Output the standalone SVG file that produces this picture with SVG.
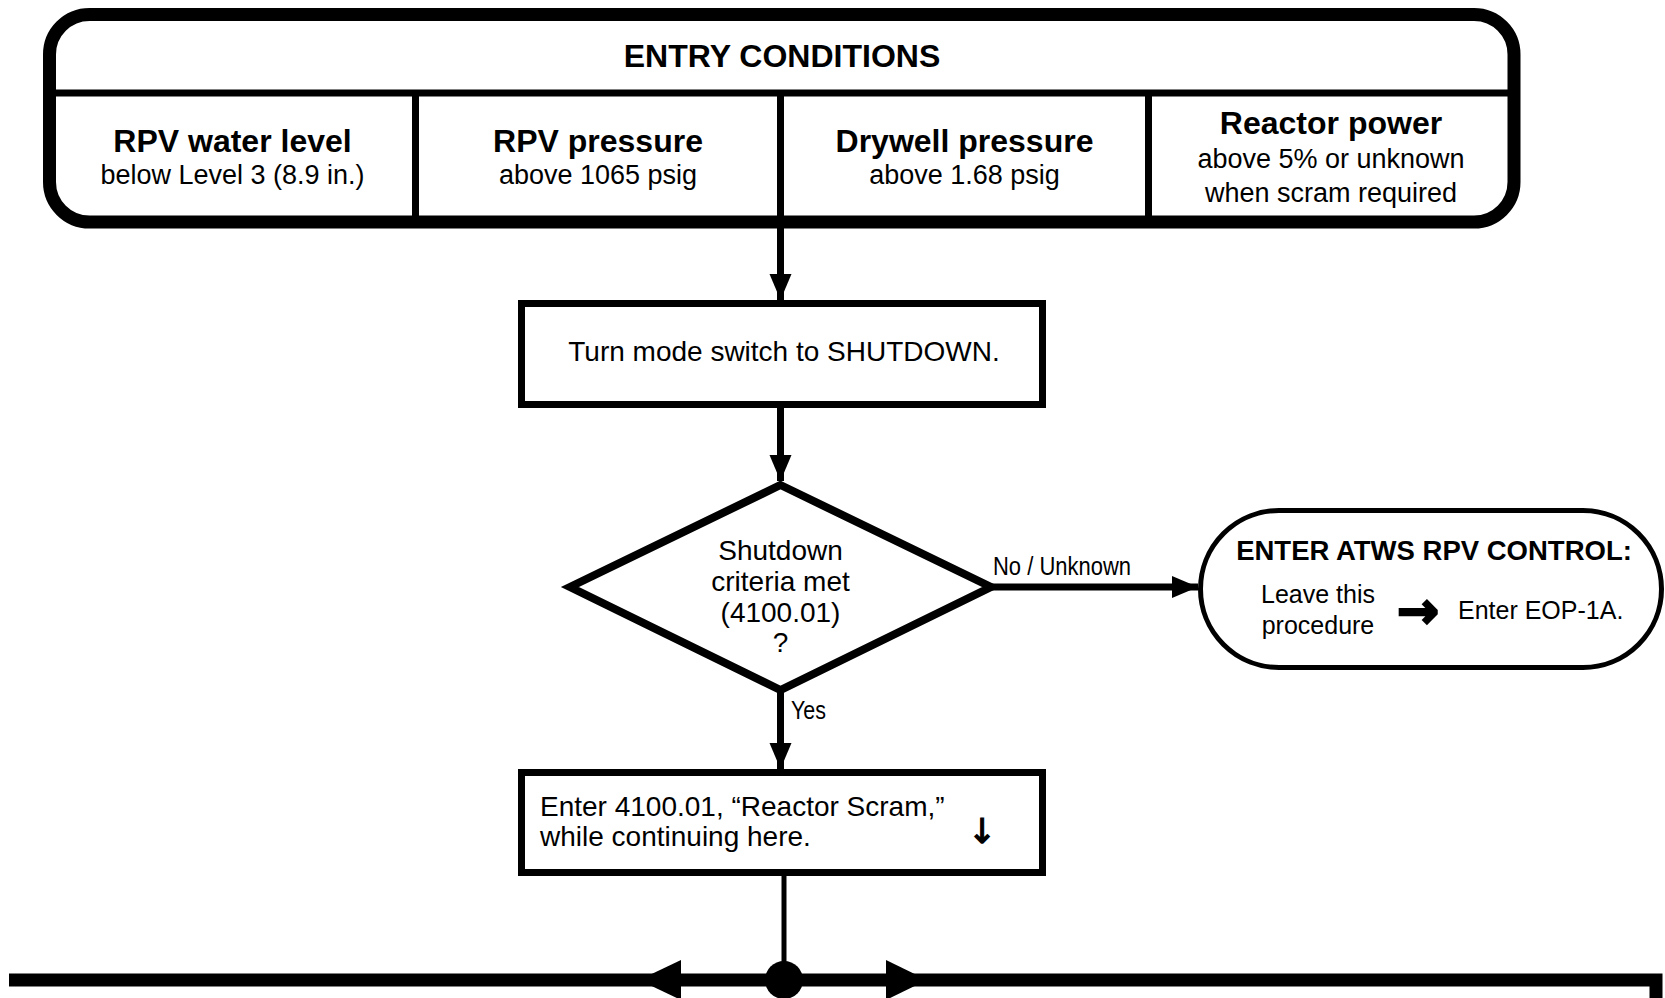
<svg xmlns="http://www.w3.org/2000/svg" width="1665" height="998" viewBox="0 0 1665 998">
<style>
text{font-family:"Liberation Sans",Arial,sans-serif;fill:#000}
.b{font-weight:bold}
.h{font-size:32px;font-weight:bold;text-anchor:middle}
.s{font-size:27px;text-anchor:middle}
.m{font-size:28px}
.c{text-anchor:middle}
.lbl{font-size:25px}
.sym{font-family:"DejaVu Sans",sans-serif;stroke:#000}
.ln{fill:none;stroke:#000;stroke-linecap:butt}
</style>
<defs>
<marker id="ah" markerUnits="userSpaceOnUse" markerWidth="28" markerHeight="24" refX="26" refY="12" orient="auto">
<path d="M0,1 L26,12 L0,23 z" fill="#000"/>
</marker>
</defs>
<rect width="1665" height="998" fill="#fff"/>

<g id="entry-conditions">
<rect x="49.5" y="14.5" width="1464.5" height="207.5" rx="40" ry="40" class="ln" stroke-width="13"/>
<line x1="49.5" y1="93" x2="1514" y2="93" class="ln" stroke-width="7"/>
<line x1="415.5" y1="93" x2="415.5" y2="222" class="ln" stroke-width="7"/>
<line x1="780.5" y1="93" x2="780.5" y2="222" class="ln" stroke-width="7"/>
<line x1="1148.5" y1="93" x2="1148.5" y2="222" class="ln" stroke-width="7"/>
<text x="782" y="67" class="h" font-size="33">ENTRY CONDITIONS</text>
<text x="232.5" y="152" class="h">RPV water level</text>
<text x="232.5" y="184" class="s">below Level 3 (8.9 in.)</text>
<text x="598" y="152" class="h">RPV pressure</text>
<text x="598" y="184" class="s">above 1065 psig</text>
<text x="964.5" y="152" class="h">Drywell pressure</text>
<text x="964.5" y="184" class="s">above 1.68 psig</text>
<text x="1331" y="134" class="h">Reactor power</text>
<text x="1331" y="168" class="s">above 5% or unknown</text>
<text x="1331" y="202" class="s">when scram required</text>
</g>

<g id="mode-switch">
<rect x="521.5" y="303.5" width="521" height="101" class="ln" stroke-width="7"/>
<text x="784" y="361" class="m c">Turn mode switch to SHUTDOWN.</text>
</g>

<g id="shutdown-decision">
<polygon points="780.5,485 991,587 780.5,690 570,587" class="ln" stroke-width="8" stroke-linejoin="miter"/>
<text x="780.5" y="560" class="m c">Shutdown</text>
<text x="780.5" y="591" class="m c">criteria met</text>
<text x="780.5" y="622" class="m c">(4100.01)</text>
<text x="780.5" y="652" class="m c">?</text>
</g>

<g id="atws">
<rect x="1200.5" y="510.5" width="461" height="157" rx="78.5" ry="78.5" class="ln" stroke-width="5"/>
<text x="1434" y="560" class="b c" font-size="27.5">ENTER ATWS RPV CONTROL:</text>
<text x="1318" y="603" class="c lbl">Leave this</text>
<text x="1318" y="634" class="c lbl">procedure</text>
<text x="1418" y="628" class="c sym" font-weight="bold" font-size="50" stroke-width="2.5">→</text>
<text x="1458" y="619" class="lbl">Enter EOP-1A.</text>
</g>

<g id="reactor-scram">
<rect x="521.5" y="772.5" width="521" height="100" class="ln" stroke-width="7"/>
<text x="540" y="816" class="m">Enter 4100.01, “Reactor Scram,”</text>
<text x="540" y="846" class="m">while continuing here.</text>
<text x="982" y="843" class="c sym" font-size="34" stroke-width="1.2">↓</text>
</g>

<g id="connectors">
<line x1="780.5" y1="228" x2="780.5" y2="300" class="ln" stroke-width="7" marker-end="url(#ah)"/>
<line x1="780.5" y1="408" x2="780.5" y2="481" class="ln" stroke-width="7" marker-end="url(#ah)"/>
<line x1="991" y1="587" x2="1198" y2="587" class="ln" stroke-width="7" marker-end="url(#ah)"/>
<line x1="780.5" y1="692" x2="780.5" y2="769" class="ln" stroke-width="7" marker-end="url(#ah)"/>
<line x1="784" y1="876" x2="784" y2="980" class="ln" stroke-width="5"/>
<path d="M9,980 H1656 V998" class="ln" stroke-width="13"/>
<polygon points="639,980 681,960 681,1000" fill="#000"/>
<polygon points="927,980 886,960 886,1000" fill="#000"/>
<circle cx="784" cy="980" r="19" fill="#000"/>
<text x="993" y="575" class="lbl" textLength="138" lengthAdjust="spacingAndGlyphs">No / Unknown</text>
<text x="791" y="719" class="lbl" textLength="35" lengthAdjust="spacingAndGlyphs">Yes</text>
</g>
</svg>
